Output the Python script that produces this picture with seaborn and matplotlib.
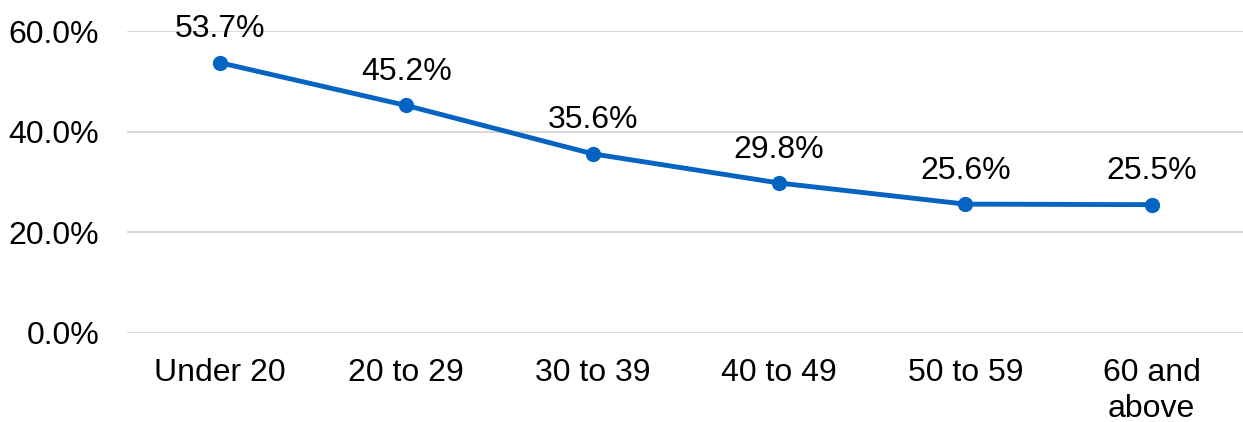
import matplotlib

matplotlib.use("Agg")

import matplotlib.pyplot as plt
import pandas as pd
import seaborn as sns

# Share by age group (%)
age_groups = ["Under 20", "20 to 29", "30 to 39", "40 to 49", "50 to 59", "60 and\nabove"]
share_pct = [53.7, 45.2, 35.6, 29.8, 25.6, 25.5]
y_ticks = [0, 20, 40, 60]

LINE_COLOR = "#0563C1"
FS = 23

sns.set_theme(style="white")
plt.rcParams["font.family"] = ["Liberation Sans", "DejaVu Sans"]

df = pd.DataFrame({"age": age_groups, "share": share_pct})
df["pos"] = range(len(df))

fig = plt.figure(figsize=(12.43, 4.22), dpi=100)
ax = fig.add_axes([0.102, 0.211, 0.898, 0.7155])

ax.set_ylim(0, 60)
ax.set_xlim(-0.5, 5.49)
ax.set_yticks(y_ticks)
ax.set_yticklabels([f"{v:.1f}%" for v in y_ticks])
ax.yaxis.grid(True, color="#D9D9D9", linewidth=1.5)
ax.set_axisbelow(True)

sns.lineplot(
    data=df, x="pos", y="share", ax=ax, color=LINE_COLOR,
    linewidth=3.5, marker="o", markersize=11, markeredgewidth=0,
)

for x, y in zip(df["pos"], df["share"]):
    ax.annotate(f"{y:.1f}%", (x, y), xytext=(0, 24), textcoords="offset points",
                ha="center", va="center", fontsize=FS, color="black")

ax.set_xticks(df["pos"])
ax.set_xticklabels(age_groups, fontsize=FS, linespacing=1.25)
ax.tick_params(axis="y", labelsize=FS, length=0, pad=20)
ax.tick_params(axis="x", length=0, pad=18)
for lbl in ax.get_yticklabels():
    lbl.set_color("black")
for lbl in ax.get_xticklabels():
    lbl.set_color("black")
    lbl.set_va("top")

ax.set_xlabel("")
ax.set_ylabel("")
sns.despine(ax=ax, left=True, bottom=True, top=True, right=True)

fig.savefig("out.png", dpi=100)
